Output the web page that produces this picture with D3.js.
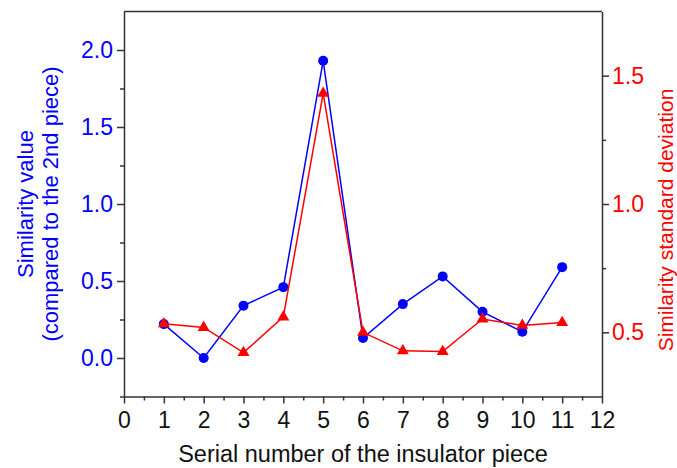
<!DOCTYPE html>
<html>
<head>
<meta charset="utf-8">
<script src="https://cdn.jsdelivr.net/npm/d3@7"></script>
<style>
  body { margin: 0; background: #fff; }
  text { font-family: "Liberation Sans", Arial, sans-serif; }
</style>
</head>
<body>
<div class="chart"></div>
<script>
// Data
const pieces = [1, 2, 3, 4, 5, 6, 7, 8, 9, 10, 11];
const similarity = [0.22, 0.0, 0.34, 0.46, 1.93, 0.13, 0.35, 0.53, 0.30, 0.17, 0.59];
const stdDev = [0.533, 0.519, 0.421, 0.560, 1.431, 0.500, 0.428, 0.425, 0.552, 0.527, 0.538];
const xTicks = d3.range(0, 13);
const leftTicks = [0.0, 0.5, 1.0, 1.5, 2.0];
const rightTicks = [0.5, 1.0, 1.5];

const width = 677, height = 468;
const margin = { top: 11.5, right: 75, bottom: 71.5, left: 124 };

const svg = d3.select(".chart")
    .append("svg")
    .attr("width", width)
    .attr("height", height);

// Scales
const x = d3.scaleLinear().domain([0, 12]).range([margin.left, width - margin.right]);
const yL = d3.scaleLinear().domain([-0.25, 2.25]).range([height - margin.bottom, margin.top]);
const yR = d3.scaleLinear().domain([0.25, 1.75]).range([height - margin.bottom, margin.top]);

const axisColor = "#333";
const tickFont = "23px";

// Frame top line
svg.append("line")
    .attr("x1", x(0)).attr("x2", x(12))
    .attr("y1", yL(2.25)).attr("y2", yL(2.25))
    .attr("stroke", axisColor).attr("stroke-width", 1.5);

function styleAxis(g, color) {
    g.select(".domain").attr("stroke", axisColor).attr("stroke-width", 1.5);
    g.selectAll(".tick line").attr("stroke", axisColor).attr("stroke-width", 1.5);
    g.selectAll(".tick text")
        .attr("fill", color)
        .style("font-size", tickFont);
}

// Bottom axis
const gx = svg.append("g")
    .attr("transform", `translate(0,${height - margin.bottom})`)
    .call(d3.axisBottom(x).tickValues(xTicks).tickSize(7).tickSizeOuter(0).tickPadding(8).tickFormat(d3.format("d")));
styleAxis(gx, "#111");
svg.append("g")
    .attr("transform", `translate(0,${height - margin.bottom})`)
    .call(d3.axisBottom(x).tickValues(d3.range(0.5, 12, 1)).tickSize(4).tickSizeOuter(0).tickFormat(""))
    .call(g => g.select(".domain").remove())
    .call(g => g.selectAll(".tick line").attr("stroke", axisColor).attr("stroke-width", 1.5));

// Left axis
const gl = svg.append("g")
    .attr("transform", `translate(${margin.left},0)`)
    .call(d3.axisLeft(yL).tickValues(leftTicks).tickSize(7).tickSizeOuter(0).tickPadding(4).tickFormat(d3.format(".1f")));
styleAxis(gl, "#0000ff");
svg.append("g")
    .attr("transform", `translate(${margin.left},0)`)
    .call(d3.axisLeft(yL).tickValues([-0.25, 0.25, 0.75, 1.25, 1.75]).tickSize(4).tickSizeOuter(0).tickFormat(""))
    .call(g => g.select(".domain").remove())
    .call(g => g.selectAll(".tick line").attr("stroke", axisColor).attr("stroke-width", 1.5));

// Right axis
const gr = svg.append("g")
    .attr("transform", `translate(${width - margin.right},0)`)
    .call(d3.axisRight(yR).tickValues(rightTicks).tickSize(7).tickSizeOuter(0).tickPadding(3).tickFormat(d3.format(".1f")));
styleAxis(gr, "#ff0000");
svg.append("g")
    .attr("transform", `translate(${width - margin.right},0)`)
    .call(d3.axisRight(yR).tickValues([0.75, 1.25]).tickSize(4).tickSizeOuter(0).tickFormat(""))
    .call(g => g.select(".domain").remove())
    .call(g => g.selectAll(".tick line").attr("stroke", axisColor).attr("stroke-width", 1.5));

// Blue series
const blue = pieces.map((p, i) => ({ p, v: similarity[i] }));
svg.append("path")
    .datum(blue)
    .attr("fill", "none")
    .attr("stroke", "#0000ff")
    .attr("stroke-width", 1.5)
    .attr("d", d3.line().x(d => x(d.p)).y(d => yL(d.v)));
svg.selectAll(".dot")
    .data(blue)
    .enter()
    .append("circle")
    .attr("class", "dot")
    .attr("cx", d => x(d.p))
    .attr("cy", d => yL(d.v))
    .attr("r", 5)
    .attr("fill", "#0000ff");

// Red series
const red = pieces.map((p, i) => ({ p, v: stdDev[i] }));
svg.append("path")
    .datum(red)
    .attr("fill", "none")
    .attr("stroke", "#ff0000")
    .attr("stroke-width", 1.5)
    .attr("d", d3.line().x(d => x(d.p)).y(d => yR(d.v)));
svg.selectAll(".tri")
    .data(red)
    .enter()
    .append("path")
    .attr("class", "tri")
    .attr("transform", d => `translate(${x(d.p)},${yR(d.v)})`)
    .attr("d", d3.symbol().type(d3.symbolTriangle).size(62))
    .attr("fill", "#ff0000");

// Axis titles
svg.append("text")
    .attr("x", (x(0) + x(12)) / 2)
    .attr("y", 462)
    .attr("text-anchor", "middle")
    .style("font-size", "23.5px")
    .attr("fill", "#111")
    .text("Serial number of the insulator piece");

const midY = (yL(2.25) + yL(-0.25)) / 2;
const leftTitle = svg.append("text")
    .attr("transform", `translate(33,${midY}) rotate(-90)`)
    .attr("text-anchor", "middle")
    .style("font-size", "22px")
    .attr("fill", "#0000ff");
leftTitle.append("tspan").attr("x", 0).attr("y", 0).text("Similarity value");
leftTitle.append("tspan").attr("x", 0).attr("y", 25).text("(compared to the 2nd piece)");

svg.append("text")
    .attr("transform", `translate(673,220) rotate(-90)`)
    .attr("text-anchor", "middle")
    .style("font-size", "21px")
    .attr("fill", "#ff0000")
    .text("Similarity standard deviation");
</script>
</body>
</html>
